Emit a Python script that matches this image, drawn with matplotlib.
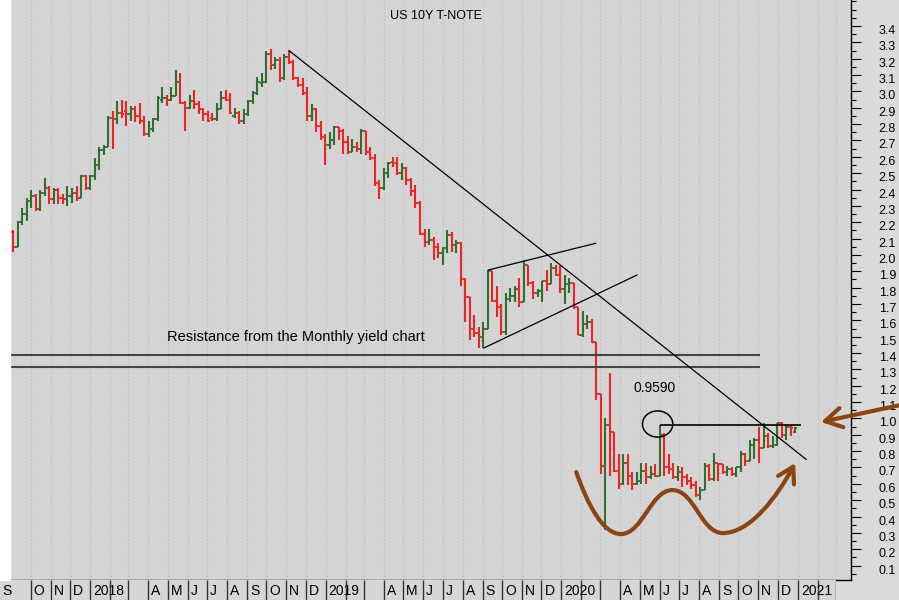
import numpy as np
import pandas as pd
import matplotlib
matplotlib.use("Agg")
import matplotlib.pyplot as plt
import matplotlib.dates as mdates
from matplotlib.patches import Ellipse, FancyArrowPatch, Rectangle, ArrowStyle
from matplotlib.path import Path
from matplotlib.ticker import MultipleLocator
from matplotlib.transforms import ScaledTranslation, blended_transform_factory

plt.rcParams['font.family'] = ['Liberation Sans', 'DejaVu Sans']

# weekly bars of the US 10Y yield (Monday of each week)
weeks = pd.date_range('2017-09-04', periods=174, freq='7D')

opens = [
    2.14, 2.05, 2.20, 2.25, 2.33, 2.36, 2.28, 2.38, 2.41, 2.34, 2.40, 2.35, 2.34, 2.36, 2.38, 2.35, 2.48,
    2.41, 2.48, 2.55, 2.64, 2.66, 2.84, 2.83, 2.87, 2.88, 2.86, 2.89, 2.85, 2.82, 2.74, 2.77, 2.83, 2.95,
    2.96, 2.95, 2.97, 3.06, 2.93, 2.90, 2.94, 2.92, 2.89, 2.86, 2.84, 2.83, 2.89, 2.96, 2.95, 2.85, 2.87,
    2.82, 2.86, 2.94, 2.99, 3.05, 3.06, 3.23, 3.16, 3.19, 3.08, 3.21, 3.18, 3.08, 3.04, 2.99, 2.85, 2.89, 2.79,
    2.72, 2.67, 2.70, 2.78, 2.76, 2.69, 2.63, 2.66, 2.65, 2.76, 2.63, 2.59, 2.44, 2.41, 2.50, 2.57, 2.56,
    2.50, 2.53, 2.46, 2.39, 2.32, 2.13, 2.08, 2.09, 2.05, 2.01, 2.04, 2.12, 2.06, 2.07, 1.85, 1.74, 1.55,
    1.52, 1.50, 1.55, 1.90, 1.72, 1.68, 1.53, 1.73, 1.75, 1.79, 1.71, 1.94, 1.83, 1.77, 1.78, 1.84, 1.82, 1.92,
    1.88, 1.79, 1.82, 1.83, 1.68, 1.51, 1.58, 1.59, 1.47, 1.15, 0.71, 0.96, 0.92, 0.68, 0.60, 0.73, 0.65,
    0.60, 0.62, 0.68, 0.64, 0.66, 0.65, 0.90, 0.70, 0.69, 0.64, 0.67, 0.64, 0.62, 0.59, 0.53, 0.56, 0.71,
    0.63, 0.73, 0.72, 0.67, 0.69, 0.66, 0.70, 0.78, 0.74, 0.84, 0.87, 0.82, 0.89, 0.83, 0.84, 0.97, 0.90, 0.95,
    0.92,
]
highs = [
    2.15, 2.21, 2.29, 2.35, 2.40, 2.37, 2.40, 2.47, 2.42, 2.41, 2.41, 2.37, 2.42, 2.41, 2.42, 2.49, 2.49,
    2.49, 2.59, 2.66, 2.67, 2.85, 2.88, 2.94, 2.95, 2.94, 2.91, 2.91, 2.93, 2.85, 2.82, 2.84, 2.97, 3.03,
    2.98, 3.03, 3.13, 3.11, 2.94, 2.98, 3.01, 2.94, 2.90, 2.88, 2.87, 2.93, 3.00, 3.01, 2.99, 2.90, 2.88,
    2.89, 2.95, 3.00, 3.09, 3.11, 3.25, 3.26, 3.21, 3.21, 3.23, 3.25, 3.19, 3.09, 3.08, 3.03, 2.92, 2.90, 2.82,
    2.74, 2.75, 2.79, 2.78, 2.77, 2.73, 2.71, 2.69, 2.77, 2.76, 2.66, 2.62, 2.46, 2.53, 2.57, 2.60, 2.60,
    2.56, 2.54, 2.47, 2.43, 2.33, 2.16, 2.16, 2.11, 2.07, 2.05, 2.15, 2.14, 2.09, 2.08, 1.86, 1.74, 1.63,
    1.56, 1.59, 1.91, 1.90, 1.81, 1.70, 1.77, 1.80, 1.81, 1.86, 1.97, 1.94, 1.84, 1.79, 1.84, 1.91, 1.95, 1.94,
    1.93, 1.88, 1.86, 1.83, 1.68, 1.66, 1.63, 1.61, 1.47, 1.15, 1.00, 1.28, 0.92, 0.78, 0.78, 0.78, 0.67,
    0.67, 0.73, 0.73, 0.71, 0.72, 0.959, 0.91, 0.78, 0.73, 0.71, 0.70, 0.66, 0.64, 0.62, 0.58, 0.73,
    0.72, 0.79, 0.73, 0.72, 0.71, 0.70, 0.70, 0.80, 0.79, 0.87, 0.88, 0.95, 0.97, 0.91, 0.89, 0.97, 0.98, 0.96,
    0.96, 0.95,
]
lows = [
    2.02, 2.05, 2.18, 2.21, 2.29, 2.27, 2.27, 2.36, 2.31, 2.31, 2.31, 2.31, 2.30, 2.32, 2.33, 2.35, 2.40,
    2.40, 2.46, 2.52, 2.61, 2.66, 2.65, 2.80, 2.84, 2.79, 2.82, 2.81, 2.80, 2.73, 2.72, 2.75, 2.82, 2.93,
    2.91, 2.94, 2.97, 2.92, 2.76, 2.89, 2.89, 2.86, 2.82, 2.81, 2.82, 2.82, 2.89, 2.94, 2.86, 2.84, 2.80,
    2.80, 2.85, 2.92, 2.98, 3.03, 3.05, 3.13, 3.14, 3.06, 3.07, 3.17, 3.07, 3.03, 2.98, 2.82, 2.82, 2.75, 2.70,
    2.55, 2.65, 2.67, 2.70, 2.62, 2.62, 2.63, 2.63, 2.62, 2.61, 2.58, 2.42, 2.34, 2.40, 2.47, 2.54, 2.49,
    2.46, 2.43, 2.36, 2.29, 2.12, 2.05, 2.06, 1.97, 1.98, 1.94, 2.01, 2.02, 2.01, 1.81, 1.59, 1.48, 1.50,
    1.43, 1.43, 1.55, 1.71, 1.62, 1.51, 1.51, 1.71, 1.71, 1.68, 1.71, 1.81, 1.73, 1.74, 1.71, 1.78, 1.82, 1.87,
    1.77, 1.70, 1.77, 1.67, 1.51, 1.50, 1.55, 1.46, 1.11, 0.66, 0.32, 0.65, 0.67, 0.57, 0.59, 0.59, 0.56,
    0.59, 0.60, 0.60, 0.63, 0.64, 0.65, 0.65, 0.66, 0.63, 0.62, 0.58, 0.59, 0.57, 0.52, 0.50, 0.56,
    0.62, 0.62, 0.62, 0.66, 0.65, 0.65, 0.64, 0.67, 0.71, 0.74, 0.75, 0.73, 0.82, 0.82, 0.82, 0.83, 0.88, 0.87,
    0.89, 0.91,
]
closes = [
    2.05, 2.20, 2.25, 2.33, 2.36, 2.28, 2.38, 2.41, 2.34, 2.40, 2.35, 2.34, 2.36, 2.38, 2.35, 2.48, 2.41,
    2.48, 2.55, 2.64, 2.66, 2.84, 2.83, 2.87, 2.86, 2.86, 2.89, 2.85, 2.82, 2.74, 2.77, 2.83, 2.96, 2.96,
    2.95, 2.97, 3.06, 2.93, 2.90, 2.94, 2.92, 2.89, 2.86, 2.82, 2.83, 2.89, 2.96, 2.95, 2.87, 2.87, 2.82,
    2.86, 2.94, 2.99, 3.06, 3.06, 3.23, 3.16, 3.19, 3.08, 3.21, 3.18, 3.08, 3.04, 2.99, 2.85, 2.89, 2.79, 2.72,
    2.67, 2.70, 2.78, 2.76, 2.69, 2.63, 2.66, 2.65, 2.76, 2.63, 2.59, 2.44, 2.41, 2.50, 2.56, 2.56, 2.50,
    2.53, 2.46, 2.39, 2.32, 2.13, 2.08, 2.09, 2.05, 2.01, 2.04, 2.12, 2.06, 2.07, 1.85, 1.74, 1.55, 1.52,
    1.50, 1.55, 1.90, 1.72, 1.68, 1.53, 1.73, 1.75, 1.79, 1.71, 1.94, 1.83, 1.77, 1.78, 1.84, 1.82, 1.92, 1.88,
    1.79, 1.82, 1.83, 1.68, 1.51, 1.58, 1.59, 1.47, 1.15, 0.71, 0.96, 0.92, 0.68, 0.60, 0.73, 0.65, 0.60,
    0.62, 0.68, 0.64, 0.66, 0.65, 0.90, 0.70, 0.69, 0.64, 0.67, 0.64, 0.62, 0.59, 0.53, 0.56, 0.71, 0.63,
    0.73, 0.72, 0.67, 0.69, 0.66, 0.70, 0.78, 0.74, 0.84, 0.87, 0.82, 0.89, 0.83, 0.84, 0.97, 0.90, 0.95, 0.94,
    0.94,
]

resistance = [1.388, 1.313]
breakout_level = 0.959
y_ticks = np.round(np.arange(0.1, 3.41, 0.1), 1)

RED, GREEN, BROWN = '#ee2424', '#2f6f2f', '#8b4513'

W, H = 899, 600
fig = plt.figure(figsize=(W / 100, H / 100), dpi=100, facecolor='#dadada')
ax_l, ax_r, ax_b = 10, 850.7, 20
ax = fig.add_axes([ax_l / W, ax_b / H, (ax_r - ax_l) / W, 1 - ax_b / H])
ax.set_facecolor('#d4d4d4')
fig.patches.append(Rectangle((0, ax_b / H), ax_l / W, 1, transform=fig.transFigure,
                             color='white', zorder=0))

x0 = mdates.date2num(pd.Timestamp('2017-08-30'))
x1 = mdates.date2num(pd.Timestamp('2021-03-24'))
ax.set_xlim(x0, x1)
ax.set_ylim(0.012, 3.559)

# OHLC bars
xs = mdates.date2num(weeks)
o, h, l, c = map(np.array, (opens, highs, lows, closes))
cols = np.where(c >= o, GREEN, RED)
ax.vlines(xs, l, h, colors=cols, lw=1.5, zorder=3)
ax.hlines(o, xs - 3.5, xs, colors=cols, lw=1.3, zorder=3)
ax.hlines(c, xs, xs + 3.5, colors=cols, lw=1.3, zorder=3)

# month grid
months = pd.date_range('2017-10-01', '2021-03-01', freq='MS')
ax.set_xticks(mdates.date2num(months))
ax.grid(axis='x', color='#bababa', ls=(0, (1, 2)), lw=0.8)
ax.tick_params(axis='x', length=0, labelbottom=False)

# right axis
ax.yaxis.tick_right()
ax.set_yticks(y_ticks)
ax.yaxis.set_minor_locator(MultipleLocator(0.05))
ax.tick_params(axis='y', which='major', length=7.2, width=0.8, labelright=False, labelleft=False)
ax.tick_params(axis='y', which='minor', length=3.4, width=0.8)
lab_tr = blended_transform_factory(ax.transAxes, ax.transData) + \
    ScaledTranslation(0.28, -0.05, fig.dpi_scale_trans)
for v in y_ticks:
    ax.text(1, v, f'{v:.1f}', transform=lab_tr, ha='left', va='center',
            fontsize=9, clip_on=False)

for s in ['left', 'top']:
    ax.spines[s].set_visible(False)
for s in ['right', 'bottom']:
    ax.spines[s].set_color('black')
    ax.spines[s].set_linewidth(1)

def d(s):
    return mdates.date2num(pd.Timestamp(s))

# resistance lines
ax.hlines(resistance, x0, d('2020-11-04'), colors='#444444', lw=1.5, zorder=4)
ax.text(d('2018-11-15'), 1.498, 'Resistance from the Monthly yield chart',
        ha='center', va='center', fontsize=10.5)

# downtrend line and wedge
ax.plot([xs[61], d('2021-01-14')], [highs[61], 0.75], color='black', lw=0.9, zorder=5)
ax.plot([d('2019-09-10'), d('2020-02-23')], [1.908, 2.071], color='black', lw=0.9, zorder=5)
ax.plot([d('2019-09-03'), d('2020-04-27')], [1.431, 1.877], color='black', lw=0.9, zorder=5)

# breakout level
ax.hlines(breakout_level, xs[143], d('2021-01-06'), colors='black', lw=1.2, zorder=5)
ax.add_patch(Ellipse((d('2020-05-29'), 0.966), 47, 0.16, fill=False,
                     edgecolor='black', lw=1.1, zorder=5))
ax.text(d('2020-05-24'), 1.186, '0.9590', ha='center', va='center', fontsize=10)

# brown W with arrow
pts = [('2020-01-24', 0.672),
       ('2020-02-10', 0.480), ('2020-03-05', 0.293), ('2020-04-02', 0.293),
       ('2020-05-06', 0.293), ('2020-05-18', 0.562), ('2020-06-21', 0.562),
       ('2020-07-25', 0.562), ('2020-08-04', 0.299), ('2020-09-07', 0.299),
       ('2020-10-19', 0.299), ('2020-11-30', 0.520), ('2020-12-28', 0.727)]
verts = [(d(a), b) for a, b in pts]
codes = [Path.MOVETO] + [Path.CURVE4] * (len(verts) - 1)
w_arrow = FancyArrowPatch(path=Path(verts, codes),
                          arrowstyle=ArrowStyle('->', head_length=11, head_width=6.5),
                          mutation_scale=1, lw=3, color=BROWN, zorder=6)
ax.add_patch(w_arrow)

side_arrow = FancyArrowPatch((d('2021-06-16'), 1.088), (d('2021-02-06'), 0.978),
                             arrowstyle=ArrowStyle('->', head_length=12, head_width=7),
                             mutation_scale=1, lw=3, color=BROWN, shrinkA=0, shrinkB=0,
                             clip_on=False, zorder=6)
ax.add_patch(side_arrow)

fig.text(436 / W, 1 - 16 / H, 'US 10Y T-NOTE', ha='center', va='center', fontsize=9)

# date strip
ppd = (ax_r - ax_l) / (x1 - x0)
strip_end = d('2021-03-01')
strip_w = ax_l + (strip_end - x0) * ppd
sax = fig.add_axes([0, 0, strip_w / W, ax_b / H])
sax.set_facecolor('#d6d6d6')
sax.set_xlim(x0 - ax_l / ppd, strip_end)
sax.set_ylim(0, 1)
sax.set_xticks([])
sax.set_yticks([])
for s in sax.spines.values():
    s.set_visible(False)
sax.vlines(mdates.date2num(months), 0, 1, colors='#333333', lw=1)
txt_tr = sax.get_xaxis_transform() + ScaledTranslation(0.03, 0, fig.dpi_scale_trans)
sax.text(0.0, 0.45, 'S', transform=sax.transAxes + ScaledTranslation(0.02, 0, fig.dpi_scale_trans),
         ha='left', va='center', fontsize=10)
for m in months[:-1]:
    if m.month == 1:
        lbl = str(m.year)
    elif m.month in (2, 3):
        lbl = ''
    else:
        lbl = m.strftime('%b')[0]
    sax.text(mdates.date2num(m), 0.45, lbl, transform=txt_tr, ha='left', va='center', fontsize=10)

fig.savefig('out.png', dpi=100, facecolor=fig.get_facecolor())
